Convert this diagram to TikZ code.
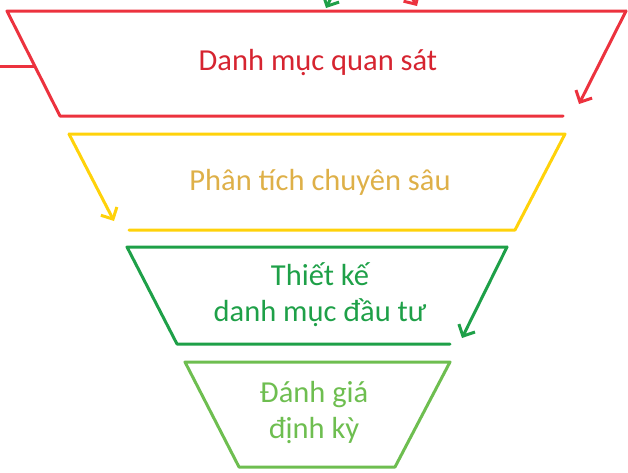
\documentclass[tikz,border=0pt]{standalone}
\usepackage{fontspec}
\setmainfont{Carlito}
\usetikzlibrary{arrows.meta}
\definecolor{cred}{RGB}{236,50,62}
\definecolor{tred}{RGB}{214,36,48}
\definecolor{cyel}{RGB}{255,210,10}
\definecolor{tyel}{RGB}{222,176,72}
\definecolor{cgrn}{RGB}{30,160,72}
\definecolor{tgrn}{RGB}{30,160,72}
\definecolor{clgr}{RGB}{110,190,80}
\tikzset{
  edge/.style={line width=3pt, line cap=round, line join=round},
  arr/.style={edge, -{Straight Barb[length=9pt,width=18pt,line width=3pt]}},
  lbl/.style={font=\fontsize{30.5}{36}\selectfont, align=center, inner sep=0pt},
}
\begin{document}
\begin{tikzpicture}[x=1pt,y=-1pt]
\useasboundingbox (0,0) rectangle (628,472);
\clip (0,0) rectangle (628,472);
% red stage
\coordinate (r1) at (7,11);
\coordinate (r2) at (626,11);
\coordinate (r3) at (579,104);
\coordinate (r4) at (563,116);
\coordinate (r5) at (60,116);
\coordinate (rs) at (-5,66);
\coordinate (rl) at (34,66);
\draw[edge, cred] (r4) -- (r5) -- (r1) -- (r2);
\draw[arr, cred] (r2) -- (r3);
\draw[edge, cred] (rs) -- (rl);
\node[lbl, text=tred] (tr) at (318,63) {Danh mục quan sát};
% cropped incoming arrows at top
\coordinate (ga) at (345,-30);
\coordinate (gb) at (326,8);
\coordinate (ra) at (395,-30);
\coordinate (rb) at (417,6);
\draw[arr, cgrn] (ga) -- (gb);
\draw[arr, cred] (ra) -- (rb);
% yellow stage
\coordinate (y1) at (69,134);
\coordinate (y2) at (114,221);
\coordinate (y3) at (129,230);
\coordinate (y4) at (515,230);
\coordinate (y5) at (565,134);
\draw[edge, cyel] (y3) -- (y4) -- (y5) -- (y1);
\draw[arr, cyel] (y1) -- (y2);
\node[lbl, text=tyel] (ty) at (320,182) {Phân tích chuyên sâu};
% green stage
\coordinate (g1) at (507,247);
\coordinate (g2) at (462,338);
\coordinate (g3) at (450,344);
\coordinate (g4) at (177,344);
\coordinate (g5) at (127,247);
\draw[edge, cgrn] (g3) -- (g4) -- (g5) -- (g1);
\draw[arr, cgrn] (g1) -- (g2);
\node[lbl, text=tgrn] (tg) at (320,295) {Thiết kế\\danh mục đầu tư};
% light green stage
\coordinate (l1) at (185,362);
\coordinate (l2) at (450,362);
\coordinate (l3) at (395,467);
\coordinate (l4) at (239,467);
\draw[edge, clgr] (l1) -- (l2) -- (l3) -- (l4) -- cycle;
\node[lbl, text=clgr] (tl) at (314,412) {Đánh giá\\định kỳ};
\end{tikzpicture}
\end{document}
